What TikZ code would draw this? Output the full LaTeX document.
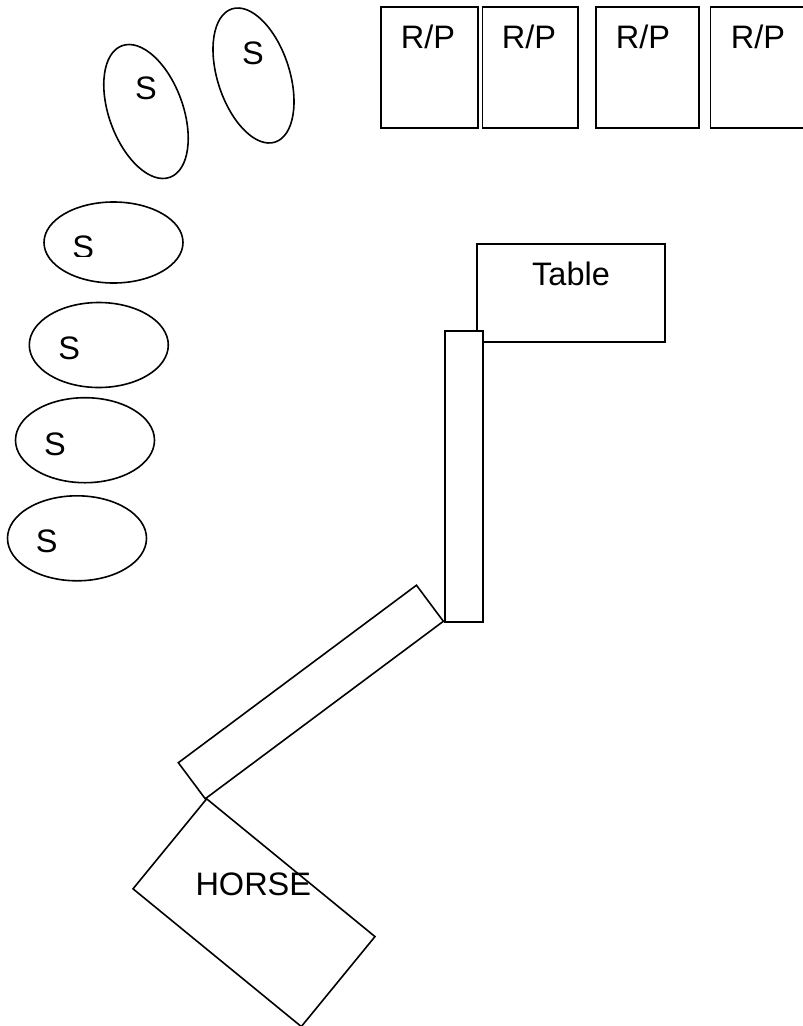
\documentclass[tikz,border=0pt]{standalone}
\usepackage{fontspec}
\setmainfont{Liberation Sans}
\usetikzlibrary{shapes.geometric}

\begin{document}
\begin{tikzpicture}[x=1pt,y=-1pt,line width=1.6pt,
  seat/.style={draw,ellipse,fill=white,inner sep=0pt,minimum width=139pt,minimum height=85pt},
  box/.style={draw,rectangle,fill=white,inner sep=0pt},
  lbl/.style={anchor=base,inner sep=0pt,font=\fontsize{32.5}{39}\selectfont}]
\clip (0,0) rectangle (803,1026);
% seats
\node [seat,minimum width=74pt,minimum height=140pt,rotate=20] (s1) at (146,111.5) {};
\node [seat,minimum width=72pt,minimum height=140pt,rotate=18] (s2) at (253.5,75.5) {};
\node [seat,minimum height=81pt] (s3) at (113.5,242.5) {};
\node [seat] (s4) at (98.8,345) {};
\node [seat] (s5) at (85,440.2) {};
\node [seat] (s6) at (77,538.3) {};
\draw (146,99.5) node [lbl] (ls1) {S};
\draw (253,64.5) node [lbl] (ls2) {S};
\begin{scope}
\clip (40,200) rectangle (190,256.7);
\draw (83.3,258.5) node [lbl] (ls3) {S};
\end{scope}
\draw (69.3,359.3) node [lbl] (ls4) {S};
\draw (55,455) node [lbl] (ls5) {S};
\draw (46.7,552.7) node [lbl] (ls6) {S};
% R/P boxes
\node [box,minimum width=96.7pt,minimum height=121pt] (rp1) at (429.35,67.2) {};
\node [box,minimum width=95.4pt,minimum height=121pt] (rp2) at (530,67.2) {};
\node [box,minimum width=102.7pt,minimum height=121pt] (rp3) at (647.35,67.2) {};
\node [box,minimum width=102.7pt,minimum height=121pt] (rp4) at (761.65,67.2) {};
\draw (428,48.3) node [lbl] (lrp1) {R/P};
\draw (529,48.3) node [lbl] (lrp2) {R/P};
\draw (643,48.3) node [lbl] (lrp3) {R/P};
\draw (758,48.3) node [lbl] (lrp4) {R/P};
% table and lane
\node [box,minimum width=188pt,minimum height=98pt] (table) at (571,293) {};
\draw (571,285) node [lbl] (ltable) {Table};
\node [box,minimum width=37.7pt,minimum height=290.7pt] (lane) at (463.85,476.35) {};
\node [box,minimum width=297pt,minimum height=45pt,rotate=36.7] (ramp) at (310.85,692) {};
% horse
\node [box,minimum width=217.5pt,minimum height=116.3pt,rotate=-39.3] (horse) at (254,912.7) {};
\draw (253.3,895) node [lbl] (lhorse) {HORSE};
\end{tikzpicture}
\end{document}
